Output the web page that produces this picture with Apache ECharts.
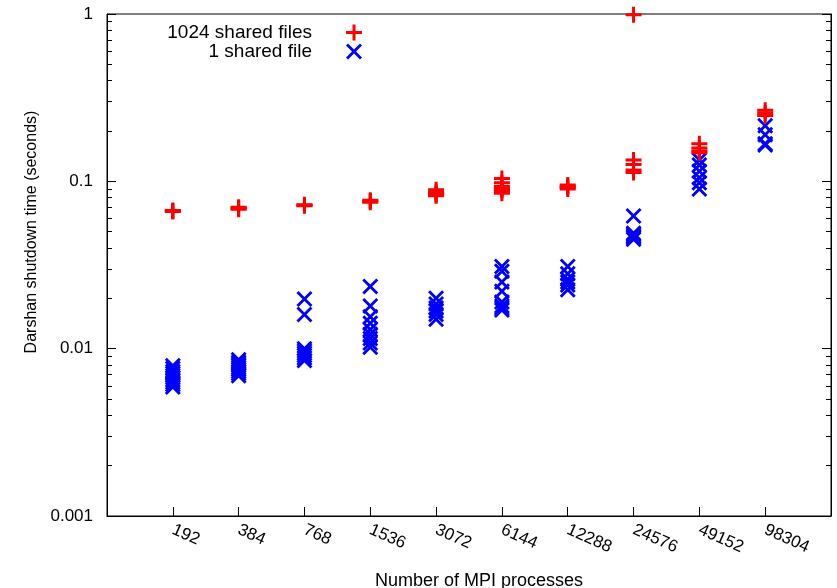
<!DOCTYPE html>
<html>
<head>
<meta charset="utf-8">
<script src="https://cdn.jsdelivr.net/npm/echarts@6/dist/echarts.min.js"></script>
<style>
  html, body { margin: 0; padding: 0; background: #fff; }
  #main { width: 837px; height: 588px; }
</style>
</head>
<body>
<div id="main"></div>
<script>
// 横轴: MPI 进程数
const procs = ['192', '384', '768', '1536', '3072', '6144', '12288', '24576', '49152', '98304']

// 每个进程数下的多次测量 (秒)
const sharedFiles1024 = [
  [0.066, 0.0665, 0.067],
  [0.068, 0.069, 0.070],
  [0.0715, 0.072, 0.0725],
  [0.075, 0.076, 0.077],
  [0.082, 0.083, 0.085, 0.086, 0.089],
  [0.104, 0.098, 0.093, 0.091, 0.089, 0.088, 0.085],
  [0.090, 0.092, 0.093, 0.095],
  [0.99, 0.134, 0.126, 0.117, 0.113],
  [0.168, 0.158, 0.152, 0.148],
  [0.266, 0.256, 0.247]
]
const sharedFile1 = [
  [0.0079, 0.0076, 0.0073, 0.0071, 0.0069, 0.0067, 0.0065, 0.0063, 0.0061, 0.0059],
  [0.0086, 0.0083, 0.0081, 0.0079, 0.0077, 0.0075, 0.0073, 0.0071, 0.0069],
  [0.0198, 0.016, 0.0100, 0.0097, 0.0094, 0.0091, 0.0088, 0.0085],
  [0.0235, 0.018, 0.0155, 0.0142, 0.013, 0.0122, 0.0115, 0.0108, 0.0102],
  [0.020, 0.0185, 0.0175, 0.0168, 0.016, 0.015],
  [0.031, 0.029, 0.025, 0.022, 0.019, 0.018, 0.0175, 0.017],
  [0.031, 0.028, 0.026, 0.025, 0.024, 0.0225],
  [0.062, 0.049, 0.048, 0.047, 0.046, 0.045],
  [0.134, 0.125, 0.115, 0.105, 0.098, 0.090],
  [0.215, 0.19, 0.168, 0.165]
]

const yMajor = [0.001, 0.01, 0.1, 1]
const yMinor = [2, 3, 4, 5, 6, 7, 8, 9].flatMap(m => [m * 0.001, m * 0.01, m * 0.1])

const plusPath = 'path://M6.5,0H9.5V6.5H16V9.5H9.5V16H6.5V9.5H0V6.5H6.5Z'
const crossPath = 'path://M0,2L2,0L8,6L14,0L16,2L10,8L16,14L14,16L8,10L2,16L0,14L6,8Z'

function toPoints (groups) {
  const out = []
  groups.forEach((vals, i) => {
    vals.forEach(v => out.push([i + 1, v]))
  })
  return out
}

const font = 'Liberation Sans, Arial, Helvetica, sans-serif'

const logAxis = (extra) => Object.assign({
  type: 'log',
  logBase: 10,
  min: 0.001,
  max: 1,
  splitLine: { show: false },
  axisLine: { show: false },
  axisLabel: { show: false },
  axisTick: { show: false }
}, extra)

const legendText = { fontFamily: font, fontSize: 19, color: '#000', padding: [0, 29, 0, 0] }

const myChart = echarts.init(document.getElementById('main'), null, { renderer: 'canvas' })
myChart.setOption({
  animation: false,
  grid: {
    left: 107,
    right: 6,
    top: 14,
    bottom: 72,
    outerBoundsMode: 'none',
    containLabel: false,
    show: true,
    borderColor: '#000',
    borderWidth: 1
  },
  legend: [
    {
      data: [{ name: '1024 shared files', icon: plusPath }],
      orient: 'vertical',
      align: 'right',
      right: 475,
      top: 23,
      padding: 0,
      itemWidth: 16,
      itemHeight: 16,
      textStyle: legendText
    },
    {
      data: [{ name: '1 shared file', icon: crossPath }],
      orient: 'vertical',
      align: 'right',
      right: 475,
      top: 42,
      padding: 0,
      itemWidth: 16,
      itemHeight: 16,
      textStyle: legendText
    }
  ],
  xAxis: {
    type: 'value',
    min: 0,
    max: 11,
    interval: 1,
    splitLine: { show: false },
    axisLine: { show: true, lineStyle: { color: '#000', width: 1 } },
    axisTick: { show: true, inside: true, length: 9, lineStyle: { color: '#000' } },
    axisLabel: {
      rotate: -24,
      margin: 13,
      fontFamily: font,
      fontSize: 17,
      color: '#000',
      formatter: (v) => procs[v - 1] || ''
    },
    name: 'Number of MPI processes',
    nameLocation: 'middle',
    nameGap: 56,
    nameTextStyle: { fontFamily: font, fontSize: 18, color: '#000', padding: [0, 0, 0, 20] }
  },
  yAxis: [
    logAxis({
      position: 'left',
      axisLine: { show: true, lineStyle: { color: '#000', width: 1 } },
      axisTick: { show: true, inside: true, length: 9, lineStyle: { color: '#000' }, customValues: yMajor },
      axisLabel: {
        show: true,
        margin: 14,
        fontFamily: font,
        fontSize: 17,
        color: '#000',
        customValues: yMajor,
        formatter: (v) => String(+(+v).toPrecision(3))
      },
      name: 'Darshan shutdown time (seconds)',
      nameLocation: 'middle',
      nameGap: 65,
      nameTextStyle: { fontFamily: font, fontSize: 16, color: '#000', padding: [0, 0, 0, 66] }
    }),
    logAxis({
      position: 'left',
      axisTick: { show: true, inside: true, length: 5, lineStyle: { color: '#000' }, customValues: yMinor }
    }),
    logAxis({
      position: 'right',
      axisLine: { show: true, lineStyle: { color: '#000', width: 1 } },
      axisTick: { show: true, inside: true, length: 9, lineStyle: { color: '#000' }, customValues: yMajor }
    }),
    logAxis({
      position: 'right',
      axisTick: { show: true, inside: true, length: 5, lineStyle: { color: '#000' }, customValues: yMinor }
    })
  ],
  series: [
    {
      name: '1024 shared files',
      type: 'scatter',
      yAxisIndex: 0,
      symbol: plusPath,
      symbolSize: 16,
      itemStyle: { color: '#ff0000', opacity: 1 },
      data: toPoints(sharedFiles1024),
      z: 3
    },
    {
      name: '1 shared file',
      type: 'scatter',
      yAxisIndex: 0,
      symbol: crossPath,
      symbolSize: 16,
      itemStyle: { color: '#0000ff', opacity: 1 },
      data: toPoints(sharedFile1),
      z: 2
    }
  ]
})
</script>
</body>
</html>
